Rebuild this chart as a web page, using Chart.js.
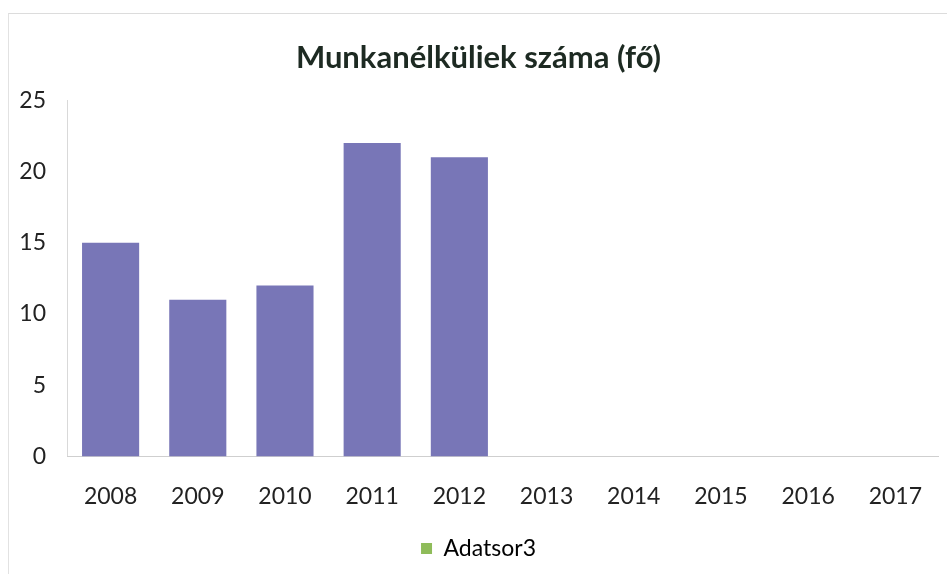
<!DOCTYPE html>
<html>
<head>
<meta charset="utf-8">
<script src="https://cdn.jsdelivr.net/npm/chart.js@4/dist/chart.umd.min.js"></script>
<style>
  html, body { margin: 0; padding: 0; background: #fff; }
  #wrap {
    position: absolute; left: 8px; top: 13px;
    width: 939px; height: 561px;
    border-left: 1px solid #e2e2e2; border-top: 1px solid #dcdcdc;
  }
</style>
</head>
<body>
<div id="wrap"><canvas id="chart"></canvas></div>
<script>
// adatok
const years = ['2008', '2009', '2010', '2011', '2012', '2013', '2014', '2015', '2016', '2017'];
const values = [15, 11, 12, 22, 21, null, null, null, null, null];
const seriesName = 'Adatsor3';
const yTicks = [0, 5, 10, 15, 20, 25];

const ctx = document.getElementById('chart').getContext('2d');

new Chart(ctx, {
    type: 'bar',
    data: {
        labels: years,
        datasets: [{
            label: seriesName,
            data: values,
            backgroundColor: '#7876b7',
            borderWidth: 0,
            categoryPercentage: 0.655,
            barPercentage: 1
        }]
    },
    options: {
        responsive: true,
        maintainAspectRatio: false,
        animation: false,
        layout: { padding: { top: 10, right: 0, left: 0, bottom: 5 } },
        plugins: {
            title: {
                display: true,
                text: 'Munkanélküliek száma (fő)',
                color: '#1d2a22',
                font: { family: 'Lato', size: 31, weight: 'bold' },
                padding: { top: 15, bottom: 24 }
            },
            legend: {
                position: 'bottom',
                labels: {
                    color: '#333',
                    font: { family: 'Lato', size: 23 },
                    boxWidth: 11,
                    boxHeight: 11,
                    padding: 1,
                    generateLabels: function(chart) {
                        return [{
                            text: seriesName,
                            fillStyle: '#8fbc5a',
                            strokeStyle: '#8fbc5a',
                            lineWidth: 0,
                            datasetIndex: 0
                        }];
                    }
                }
            },
            tooltip: { enabled: false }
        },
        scales: {
            y: {
                min: 0,
                max: 25,
                afterBuildTicks: function(axis) {
                    axis.ticks = yTicks.map(v => ({ value: v }));
                },
                afterFit: function(axis) {
                    axis.width = 58;
                },
                grid: { display: false, drawTicks: false },
                border: { display: true, color: '#d9d9d9', width: 1 },
                ticks: {
                    color: '#222',
                    padding: 21,
                    font: { family: 'Lato', size: 23 }
                }
            },
            x: {
                grid: { display: false, drawTicks: false },
                border: { display: true, color: '#cfcfcf', width: 1 },
                ticks: {
                    color: '#222',
                    padding: 26,
                    font: { family: 'Lato', size: 23 }
                }
            }
        }
    }
});
</script>
</body>
</html>
